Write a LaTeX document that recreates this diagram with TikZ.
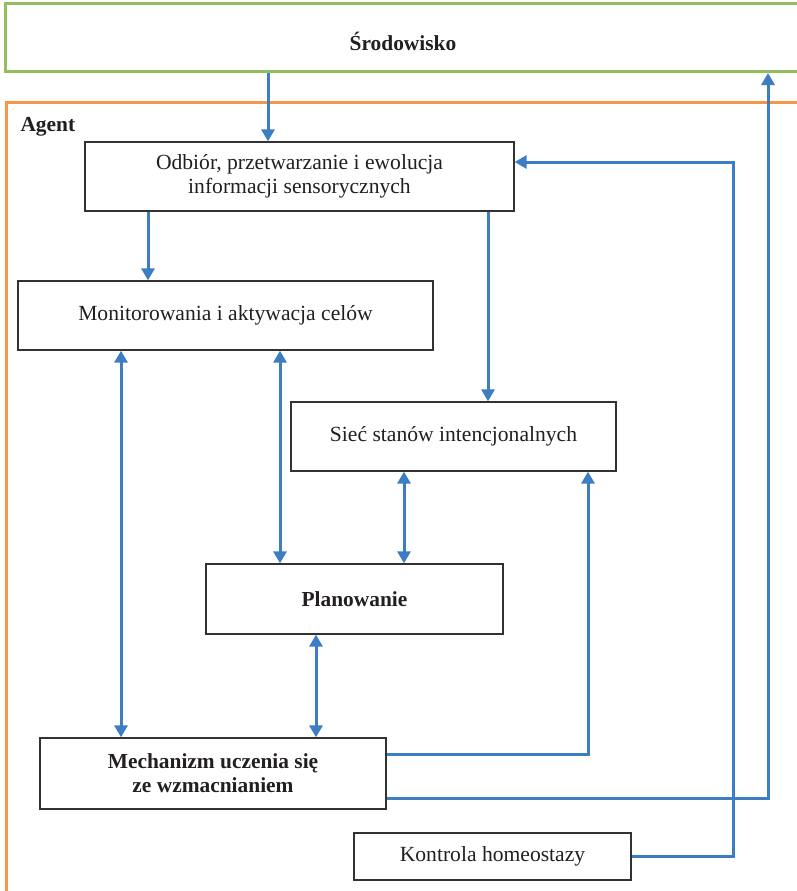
\documentclass[tikz,border=0pt]{standalone}
\usepackage{fontspec}
\setmainfont{Liberation Serif}
\usetikzlibrary{arrows.meta}
\definecolor{envgreen}{RGB}{146,190,96}
\definecolor{agentorange}{RGB}{247,150,70}
\definecolor{flowblue}{RGB}{61,125,196}
\definecolor{boxgray}{RGB}{50,50,50}
\definecolor{inkdark}{RGB}{35,31,32}
\tikzset{
  box/.style={draw=boxgray, line width=1.3pt, fill=white, align=center,
    inner sep=0pt, text=inkdark, font=\fontsize{21.6}{24}\selectfont},
  boldbox/.style={box, font=\fontsize{21.4}{24}\selectfont\bfseries},
  arr/.style={draw=flowblue, line width=3pt,
    -{Triangle[length=12pt,width=13pt]}},
  darr/.style={draw=flowblue, line width=3pt,
    {Triangle[length=12pt,width=13pt]}-{Triangle[length=12pt,width=13pt]}},
  frame/.style={line width=3pt}
}
\begin{document}
\begin{tikzpicture}[x=1pt,y=-1pt]
\useasboundingbox (0,0) rectangle (797,891);
\begin{scope}
\clip (0,0) rectangle (797,891);
% environment and agent frames (open to the right / bottom)
\draw[frame, draw=envgreen] (805,3.5) -- (5.5,3.5) -- (5.5,71.5) -- (805,71.5);
\draw[frame, draw=agentorange] (805,102.5) -- (6.5,102.5) -- (6.5,900);
\end{scope}

\node[text=inkdark, font=\fontsize{21.4}{24}\selectfont\bfseries] (env) at (403,41) {Środowisko};
\node[text=inkdark, font=\fontsize{21.4}{24}\selectfont\bfseries, anchor=west] (agent) at (17,127) {Agent};

% process boxes
\node[box, minimum width=429pt, minimum height=69pt] (odb) at (299.5,176.5)
  {Odbiór, przetwarzanie i ewolucja\\informacji sensorycznych};
\node[box, minimum width=415pt, minimum height=69pt] (mon) at (225.5,315.5)
  {Monitorowania i aktywacja celów};
\node[box, minimum width=325pt, minimum height=69pt] (siec) at (453.5,436.5)
  {Sieć stanów intencjonalnych};
\node[boldbox, minimum width=297pt, minimum height=70pt] (plan) at (354.5,599)
  {Planowanie};
\node[boldbox, minimum width=346pt, minimum height=71pt] (mech) at (213,773.5)
  {Mechanizm uczenia się\\ze wzmacnianiem};
\node[box, minimum width=277pt, minimum height=47pt] (kont) at (492.5,856.5)
  {Kontrola homeostazy};

% connector lanes
\coordinate (envb) at (0,73);
\coordinate (l268) at (268,0);
\coordinate (l148) at (148,0);
\coordinate (l488) at (488,0);
\coordinate (l121) at (121,0);
\coordinate (l280) at (280,0);
\coordinate (l404) at (404,0);
\coordinate (l316) at (316,0);
\coordinate (l588) at (588,0);
\coordinate (l768) at (768,0);
\coordinate (l733) at (733,0);
\coordinate (h162) at (0,162);
\coordinate (h754) at (0,754);
\coordinate (h798) at (0,798);

% connectors
\draw[arr] (l268 |- envb) -- (l268 |- odb.north);
\draw[arr] (l148 |- odb.south) -- (l148 |- mon.north);
\draw[arr] (l488 |- odb.south) -- (l488 |- siec.north);
\draw[darr] (l121 |- mon.south) -- (l121 |- mech.north);
\draw[darr] (l280 |- mon.south) -- (l280 |- plan.north);
\draw[darr] (l404 |- siec.south) -- (l404 |- plan.north);
\draw[darr] (l316 |- plan.south) -- (l316 |- mech.north);
\draw[arr] (mech.east |- h754) -| (l588 |- siec.south);
\draw[arr] (mech.east |- h798) -| (l768 |- envb);
\draw[arr] (kont.east) -| (l733 |- h162) -- (odb.east |- h162);
\end{tikzpicture}
\end{document}
